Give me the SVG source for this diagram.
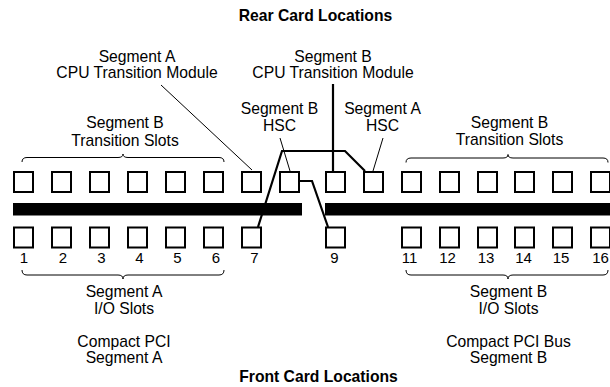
<svg xmlns="http://www.w3.org/2000/svg" width="610" height="387" viewBox="0 0 610 387">
<style>
text{font-family:"Liberation Sans",Arial,sans-serif;font-size:15.7px;fill:#000;text-anchor:middle}
.b{font-weight:bold}
.n{font-size:15px}
.slot{fill:#fff;stroke:#000;stroke-width:2}
.bar{fill:#000}
.thin{fill:none;stroke:#000;stroke-width:1}
.thick{fill:none;stroke:#000;stroke-width:2.2;stroke-linejoin:miter}
.brace{fill:none;stroke:#000;stroke-width:1}
</style>
<rect width="610" height="387" fill="#fff"/>
<g id="titles">
<text class="b" x="315.5" y="20.5">Rear Card Locations</text>
<text class="b" x="318.5" y="382">Front Card Locations</text>
</g>
<g id="bus-a"><rect class="bar" x="13" y="203" width="289" height="12.5"/></g>
<g id="bus-b"><rect class="bar" x="325" y="203" width="285" height="12.5"/></g>
<g id="rear-slots">
<rect class="slot" x="14" y="172" width="19" height="20"/>
<rect class="slot" x="52" y="172" width="19" height="20"/>
<rect class="slot" x="90" y="172" width="19" height="20"/>
<rect class="slot" x="128" y="172" width="19" height="20"/>
<rect class="slot" x="166" y="172" width="19" height="20"/>
<rect class="slot" x="204" y="172" width="19" height="20"/>
<rect class="slot" x="242" y="172" width="19" height="20"/>
<rect class="slot" x="280" y="172" width="19" height="20"/>
<rect class="slot" x="326" y="172" width="19" height="20"/>
<rect class="slot" x="364" y="172" width="19" height="20"/>
<rect class="slot" x="402" y="172" width="19" height="20"/>
<rect class="slot" x="440" y="172" width="19" height="20"/>
<rect class="slot" x="478" y="172" width="19" height="20"/>
<rect class="slot" x="515" y="172" width="19" height="20"/>
<rect class="slot" x="553" y="172" width="19" height="20"/>
<rect class="slot" x="591" y="172" width="19" height="20"/>
</g>
<g id="front-slots">
<rect class="slot" x="14" y="227.5" width="19" height="20"/>
<rect class="slot" x="52" y="227.5" width="19" height="20"/>
<rect class="slot" x="90" y="227.5" width="19" height="20"/>
<rect class="slot" x="128" y="227.5" width="19" height="20"/>
<rect class="slot" x="166" y="227.5" width="19" height="20"/>
<rect class="slot" x="204" y="227.5" width="19" height="20"/>
<rect class="slot" x="242" y="227.5" width="19" height="20"/>
<rect class="slot" x="326" y="227.5" width="19" height="20"/>
<rect class="slot" x="402" y="227.5" width="19" height="20"/>
<rect class="slot" x="440" y="227.5" width="19" height="20"/>
<rect class="slot" x="478" y="227.5" width="19" height="20"/>
<rect class="slot" x="515" y="227.5" width="19" height="20"/>
<rect class="slot" x="553" y="227.5" width="19" height="20"/>
<rect class="slot" x="591" y="227.5" width="19" height="20"/>
</g>
<g id="slot-numbers">
<text class="n" x="24" y="263">1</text>
<text class="n" x="63" y="263">2</text>
<text class="n" x="101.5" y="263">3</text>
<text class="n" x="139.5" y="263">4</text>
<text class="n" x="177.5" y="263">5</text>
<text class="n" x="216" y="263">6</text>
<text class="n" x="254.5" y="263">7</text>
<text class="n" x="334.5" y="263">9</text>
<text class="n" x="409.5" y="263">11</text>
<text class="n" x="447.5" y="263">12</text>
<text class="n" x="486" y="263">13</text>
<text class="n" x="523.5" y="263">14</text>
<text class="n" x="561" y="263">15</text>
<text class="n" x="600.5" y="263">16</text>
</g>
<g id="label-cpu-a">
<text x="137" y="61.5">Segment A</text>
<text x="137" y="78">CPU Transition Module</text>
</g>
<g id="label-cpu-b">
<text x="333" y="61.5">Segment B</text>
<text x="333" y="78">CPU Transition Module</text>
</g>
<g id="label-hsc-b">
<text x="279.5" y="113.5">Segment B</text>
<text x="279.5" y="130.5">HSC</text>
</g>
<g id="label-hsc-a">
<text x="382.5" y="113.5">Segment A</text>
<text x="382.5" y="130.5">HSC</text>
</g>
<g id="label-rear-b-left">
<path class="brace" d="M22,162 Q22,157.5 27,157.5 L118,157.5 Q123,157.5 123,154 Q123,157.5 128,157.5 L219,157.5 Q224,157.5 224,162"/>
<text x="125" y="128">Segment B</text>
<text x="125" y="145.5">Transition Slots</text>
</g>
<g id="label-rear-b-right">
<path class="brace" d="M406,162.5 Q406,158 411,158 L503,158 Q508,158 508,154.5 Q508,158 513,158 L603,158 Q608,158 608,162.5"/>
<text x="509.5" y="127.5">Segment B</text>
<text x="509.5" y="145">Transition Slots</text>
</g>
<g id="label-io-a">
<path class="brace" d="M22,270 Q22,275 27,275 L118,275 Q123,275 123,279 Q123,275 128,275 L219,275 Q224,275 224,270"/>
<text x="124" y="297">Segment A</text>
<text x="124" y="314">I/O Slots</text>
</g>
<g id="label-io-b">
<path class="brace" d="M406,270 Q406,275 411,275 L503,275 Q508,275 508,279 Q508,275 513,275 L603,275 Q608,275 608,270"/>
<text x="508.5" y="297">Segment B</text>
<text x="508.5" y="314">I/O Slots</text>
</g>
<g id="label-pci-a">
<text x="124" y="346.7">Compact PCI</text>
<text x="124" y="362.5">Segment A</text>
</g>
<g id="label-pci-b">
<text x="508.5" y="346.7">Compact PCI Bus</text>
<text x="508.5" y="362.5">Segment B</text>
</g>
<g id="connectors">
<line class="thin" x1="161" y1="85" x2="252" y2="170"/>
<line class="thin" x1="280" y1="138" x2="290" y2="171"/>
<line class="thin" x1="383" y1="138" x2="373" y2="171"/>
<line class="thick" x1="333" y1="84" x2="333" y2="171"/>
<polyline class="thick" points="258,227 282,151 345,151 365,171"/>
<polyline class="thick" points="300,181 312,181 328,227"/>
</g>
</svg>
